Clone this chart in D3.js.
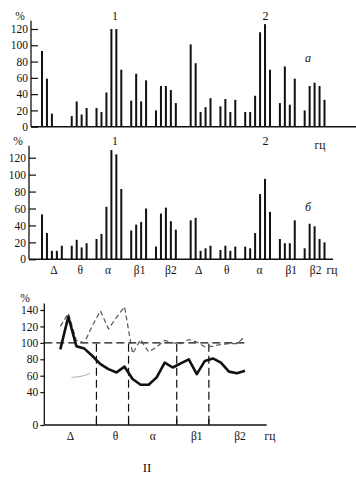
<!DOCTYPE html>
<html><head><meta charset="utf-8">
<script src="https://cdn.jsdelivr.net/npm/d3@7"></script>
<style>
body{margin:0;background:#fff}
svg{display:block}
svg text{font-family:"Liberation Serif","Times New Roman",serif !important;fill:#111}
</style>
</head><body>
<svg id="c" width="356" height="482" font-family="Liberation Serif, serif"></svg>
<script>
// ---------- data ----------
const bands = ["Δ","θ","α","β1","β2"];
const bandSizes = [5,4,6,4,5];
const yTicksBars = [0,20,40,60,80,100,120];
const yTicksLine = [0,40,60,80,100,120,140];
// panel а : two recording sites (1, 2), bars per frequency sub-band
const aSite1 = [93,59,16,null,null, 13,31,15,23, 23,18,42,120,120,70, 32,65,31,57, 20,50,50,45,29];
const aSite2 = [101,78,18,24,35, 25,34,18,33, 18,18,38,116,126,70, 29,74,27,59, 20,50,54,50,33];
// panel б
const bSite1 = [53,31,10,10,16, 16,23,14,19, 24,30,62,129,124,83, 34,41,44,60, 15,54,61,45,35];
const bSite2 = [46,49,10,13,16, 11,16,10,15, 15,13,31,77,95,56, 24,19,19,46, 13,42,39,24,20];
// panel II : ratio curves (%)
const solidRatio  = [92,132,96,93,84,74,68,64,71,56,49,49,58,76,70,75,80,62,78,81,76,65,63,66];
const dashedRatio = [120,136,103,100,121,139,117,131,144,87,104,89,95,103,100,99,104,101,95,96,98,99,99,108];
const faintTrace = [[1.4,58],[2.2,58.5],[3.0,60],[3.7,63]];

// ---------- layout helpers ----------
const svg = d3.select("#c");
const FS = 11.5;
const FONT = "Liberation Serif, Times New Roman, serif";

const slotOf = [];
{ let acc = 0; bandSizes.forEach((n,g)=>{ for(let j=0;j<n;j++) slotOf.push(acc + g + j); acc += n; }); }
const siteSlots = slotOf[slotOf.length-1] + 3; // 30
const bandCenters = bandSizes.map((n,g)=>{ const s = d3.sum(bandSizes.slice(0,g)); return (slotOf[s] + slotOf[s+n-1])/2; });
const xSlot = d3.scaleLinear().domain([0, siteSlots + slotOf[slotOf.length-1]]).range([42, 324.5]);

function txt(g, x, y, s, size, extra){
  const t = g.append("text").attr("x",x).attr("y",y).attr("text-anchor","middle")
    .attr("font-size",size||FS).attr("font-family",FONT).text(s);
  if(extra) t.attr("font-style","italic");
  return t;
}

function drawBarPanel(o){
  const y = d3.scaleLinear().domain([0,120]).range(o.yRange);
  const g = svg.append("g");
  [o.s1, o.s2].forEach((site, h)=>{
    g.selectAll(null).data(site.map((v,i)=>({v, s: slotOf[i] + h*siteSlots})).filter(d=>d.v!=null))
      .enter().append("rect")
      .attr("x", d=>xSlot(d.s)-1).attr("width", 2)
      .attr("y", d=>y(d.v)).attr("height", d=>y(0)-y(d.v))
      .attr("fill","#111");
  });
  g.append("line").attr("x1", o.axisX).attr("x2", o.baseEnd)
    .attr("y1", y(0)).attr("y2", y(0)).attr("stroke","#111").attr("stroke-width",1.5);
  const ax = g.append("g").attr("transform",`translate(${o.axisX},0)`)
    .call(d3.axisLeft(y).tickValues(yTicksBars).tickSize(-7).tickPadding(3).tickSizeOuter(0));
  ax.attr("font-family",FONT).attr("font-size",FS);
  ax.select(".domain").remove();
  ax.selectAll("line").attr("stroke","#111").attr("stroke-width",1.2);
  ax.selectAll("text").attr("fill","#111");
  g.append("line").attr("x1",o.axisX).attr("x2",o.axisX).attr("y1",y(0)).attr("y2",y(o.topExt))
    .attr("stroke","#111").attr("stroke-width",1.3);
  txt(g, o.axisX-11, y(o.topExt)-1, "%");
  txt(g, xSlot(bandCenters[2])+6, y(o.topExt)-1, "1", 12);
  txt(g, xSlot(bandCenters[2]+siteSlots)+8, y(o.topExt)-1, "2", 12);
  return {g,y};
}

// ---------- panel а ----------
const pA = drawBarPanel({s1:aSite1, s2:aSite2, yRange:[126.7,29], axisX:31, baseEnd:356, topExt:130});
txt(pA.g, 308, pA.y(80), "а", 12, true);
txt(pA.g, 320, pA.y(0)+22, "гц");

// ---------- panel б ----------
const pB = drawBarPanel({s1:bSite1, s2:bSite2, yRange:[259.3,157.7], axisX:29, baseEnd:333, topExt:134});
txt(pB.g, 308, pB.y(57), "б", 12, true);
const barLabelNudge = [[2,1,-1,1,5],[-2,-1,2,4,1]];
[0,1].forEach(h=>{
  bands.forEach((b,i)=>txt(pB.g, xSlot(bandCenters[i]+h*siteSlots)+barLabelNudge[h][i], pB.y(0)+15, b));
});
txt(pB.g, 332, pB.y(0)+15, "гц");

// ---------- panel II ----------
const xL = d3.scaleLinear().domain([0,23]).range([60.3,245]);
const yL = d3.scaleLinear().domain([0,140]).range([425,310]);
const gL = svg.append("g");
const axL = 44.3;
gL.append("line").attr("x1",axL).attr("x2",266.7).attr("y1",yL(0)).attr("y2",yL(0))
  .attr("stroke","#111").attr("stroke-width",1.5);
const ay = gL.append("g").attr("transform",`translate(${axL},0)`)
  .call(d3.axisLeft(yL).tickValues(yTicksLine).tickSize(4).tickPadding(2).tickSizeOuter(0));
ay.attr("font-family",FONT).attr("font-size",FS);
ay.select(".domain").remove();
ay.selectAll("line").attr("stroke","#111").attr("stroke-width",1.2);
ay.selectAll("text").attr("fill","#111");
gL.append("line").attr("x1",axL).attr("x2",axL).attr("y1",yL(0)).attr("y2",yL(148))
  .attr("stroke","#111").attr("stroke-width",1.3);
txt(gL, 25, yL(148)-1, "%");
gL.append("line").attr("x1",axL).attr("x2",xL(23)+2).attr("y1",yL(100)).attr("y2",yL(100))
  .attr("stroke","#111").attr("stroke-width",1.2).attr("stroke-dasharray","8,4");
const bounds = [];
{ let acc=0; bandSizes.slice(0,-1).forEach(n=>{ acc+=n; bounds.push(acc-0.5); }); }
gL.selectAll(null).data(bounds).enter().append("line")
  .attr("x1",d=>xL(d)).attr("x2",d=>xL(d)).attr("y1",yL(99)).attr("y2",yL(0))
  .attr("stroke","#111").attr("stroke-width",1.2).attr("stroke-dasharray","8,4");
gL.selectAll(null).data(bounds).enter().append("line")
  .attr("x1",d=>xL(d)).attr("x2",d=>xL(d)).attr("y1",yL(0)-6).attr("y2",yL(0))
  .attr("stroke","#111").attr("stroke-width",1.2);
const line = d3.line().x((d,i)=>xL(i)).y(d=>yL(d));
gL.append("path").attr("d",line(dashedRatio)).attr("fill","none")
  .attr("stroke","#555").attr("stroke-width",1.2).attr("stroke-dasharray","5,3");
gL.append("path").attr("d",line(solidRatio)).attr("fill","none")
  .attr("stroke","#111").attr("stroke-width",2.6).attr("stroke-linejoin","round");
gL.append("path").attr("d",d3.line().curve(d3.curveBasis).x(d=>xL(d[0])).y(d=>yL(d[1]))(faintTrace))
  .attr("fill","none").attr("stroke","#999").attr("stroke-width",0.8);
const lineLabelNudge = [-6,3,0,4,11];
bands.forEach((b,i)=>{
  const s = d3.sum(bandSizes.slice(0,i));
  txt(gL, xL(s+(bandSizes[i]-1)/2)+lineLabelNudge[i], yL(0)+15, b);
});
txt(gL, 270, yL(0)+15, "гц");
txt(gL, 147, 472, "II", 13);
</script>
</body></html>
